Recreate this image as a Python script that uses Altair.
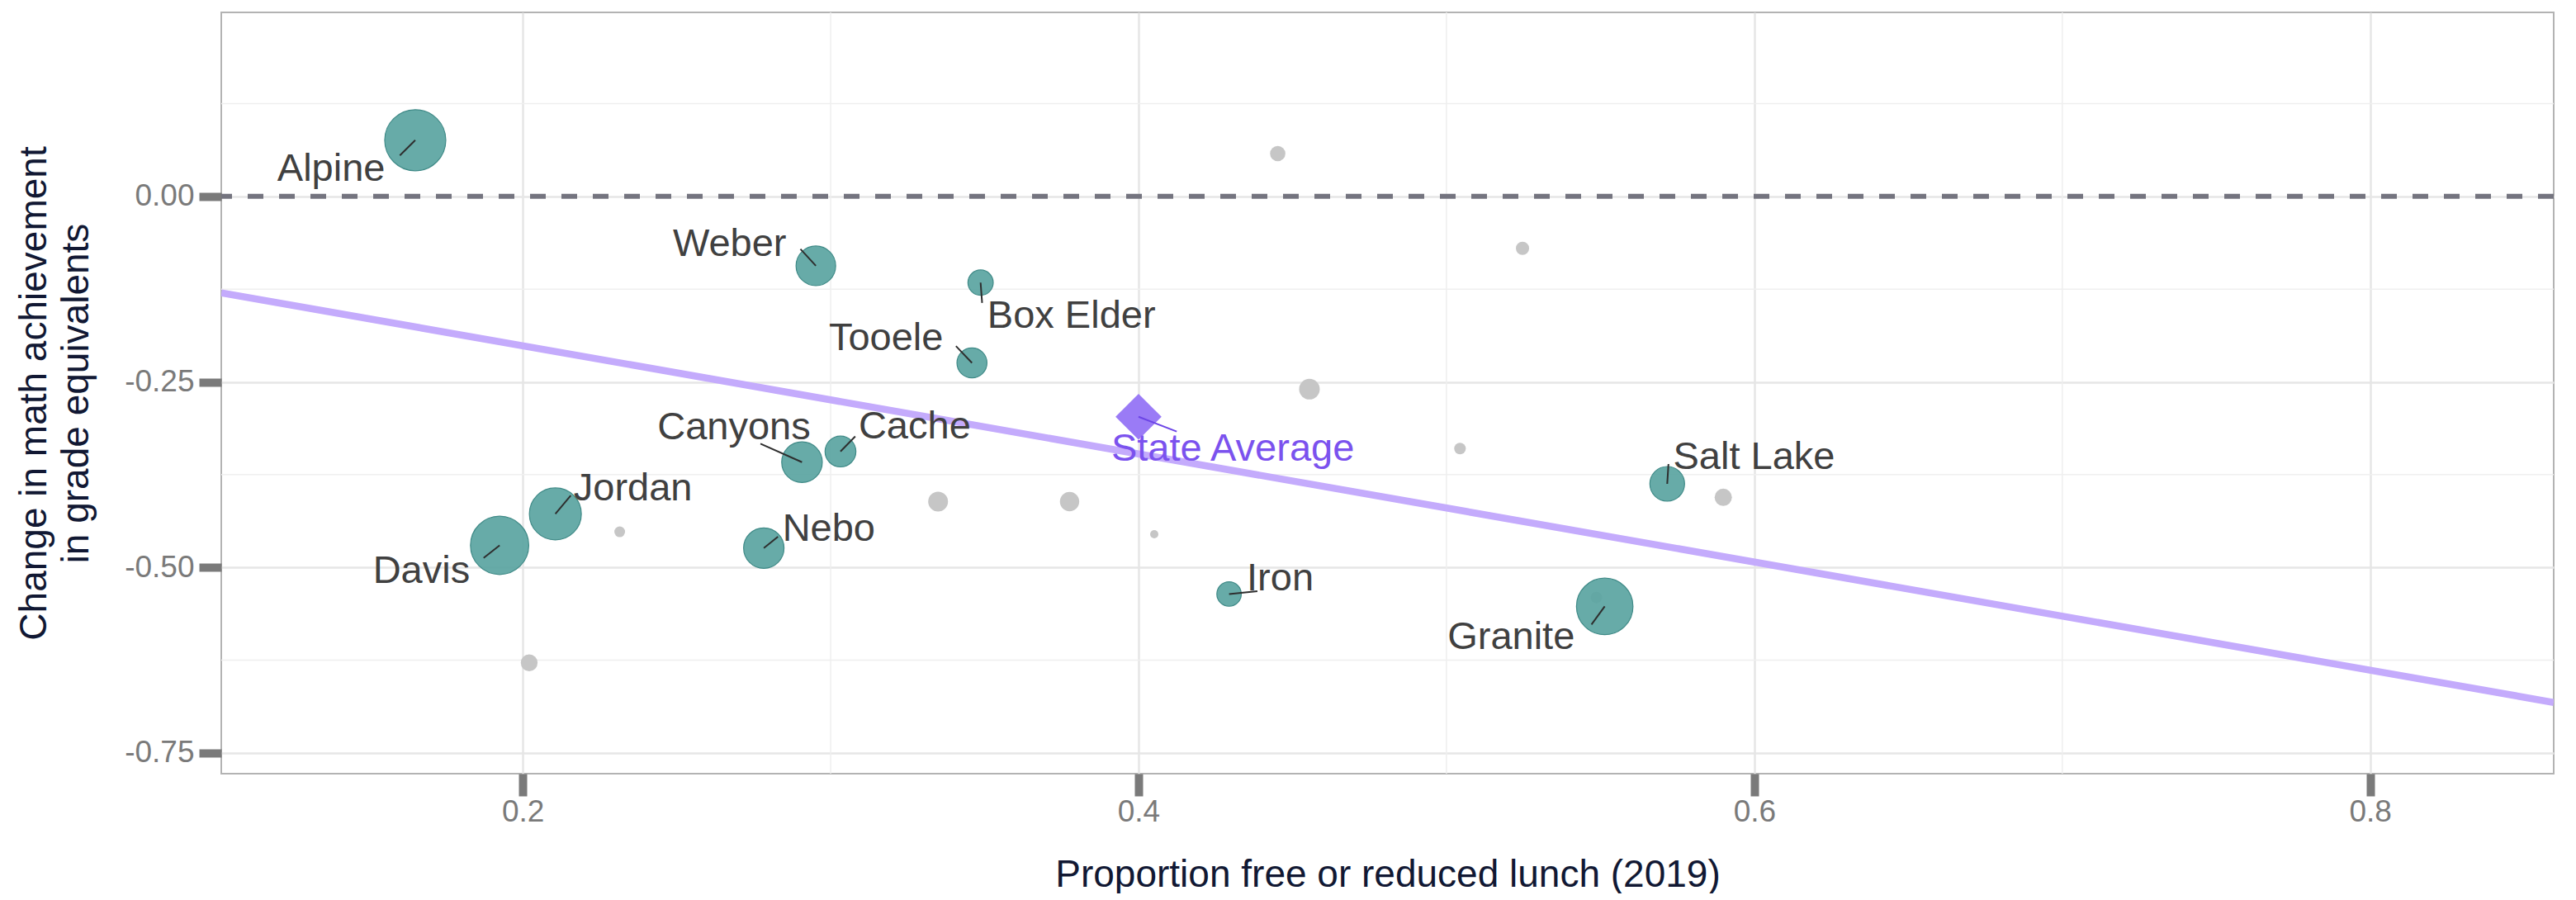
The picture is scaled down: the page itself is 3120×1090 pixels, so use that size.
import altair as alt
import pandas as pd

# ---- highlighted districts ----
districts = ["Alpine", "Davis", "Granite", "Jordan", "Canyons", "Nebo", "Weber",
             "Salt Lake", "Cache", "Tooele", "Box Elder", "Iron"]
frl = [0.1651, 0.1925, 0.5514, 0.2106, 0.2907, 0.2783, 0.2952,
       0.5717, 0.3032, 0.3459, 0.3487, 0.4294]
change = [0.0757, -0.4703, -0.5526, -0.4279, -0.3582, -0.4740, -0.0935,
          -0.3874, -0.3438, -0.2244, -0.1162, -0.5359]
students = [80000, 72800, 68500, 57900, 35300, 35000, 33600,
            25800, 20400, 19300, 13700, 12800]
# repelled label anchors (data units) and leader-segment ends
label_x = [0.1378, 0.1671, 0.5210, 0.2358, 0.2686, 0.2994, 0.2672,
           0.5999, 0.3273, 0.3180, 0.3782, 0.4460]
label_y = [0.0212, -0.5210, -0.6100, -0.4097, -0.3273, -0.4642, -0.0802,
           -0.3674, -0.3262, -0.2071, -0.1770, -0.5310]
seg_x = [0.1601, 0.1873, 0.5471, 0.2156, 0.2772, 0.2829, 0.2902,
         0.5721, 0.3080, 0.3407, 0.3492, 0.4386]
seg_y = [0.0553, -0.4873, -0.5770, -0.4032, -0.3333, -0.4586, -0.0709,
         -0.3607, -0.3235, -0.2017, -0.1436, -0.5321]

# ---- other districts ----
other_frl = [0.4452, 0.5247, 0.4555, 0.5044, 0.5899, 0.3349, 0.3776,
             0.4051, 0.2315, 0.2021, 0.5487]
other_change = [0.0577, -0.0700, -0.2598, -0.3399, -0.4056, -0.4114, -0.4114,
                -0.4552, -0.4520, -0.6286, -0.5406]
other_students = [5050, 3740, 9120, 2860, 6440, 8410, 7990,
                  1460, 2470, 6080, 2860]

# ---- state average ----
state_name = ["State Average"]
state_frl = [0.400]
state_change = [-0.297]
state_label_x = [0.4306]
state_label_y = [-0.3562]
state_seg_x = [0.4124]
state_seg_y = [-0.3169]

# ---- fitted line ends ----
fit_x = [0.1021, 0.8596]
fit_y = [-0.130, -0.682]

# ---- ticks / grid ----
x_ticks = [0.2, 0.4, 0.6, 0.8]
y_ticks = [0.0, -0.25, -0.50, -0.75]
x_minor = [0.3, 0.5, 0.7]
y_minor = [0.125, -0.125, -0.375, -0.625]
zero_line = [0.0]

teal = pd.DataFrame({"name": districts, "frl": frl, "change": change,
                     "students": students, "lx": label_x, "ly": label_y,
                     "sx": seg_x, "sy": seg_y})
others = pd.DataFrame({"frl": other_frl, "change": other_change,
                       "students": other_students})
state = pd.DataFrame({"name": state_name, "frl": state_frl, "change": state_change,
                      "lx": state_label_x, "ly": state_label_y,
                      "sx": state_seg_x, "sy": state_seg_y})
fit = pd.DataFrame({"frl": fit_x, "change": fit_y})

FONT = "Liberation Sans"
TICK_GRAY = "#7a7a7a"
TITLE_COLOR = "#111833"

xscale = alt.Scale(domain=[0.1021, 0.8596], nice=False, zero=False)
yscale = alt.Scale(domain=[-0.778, 0.248], nice=False, zero=False)
sscale = alt.Scale(domain=[0, 80000], range=[0, 5476])

xaxis = alt.Axis(values=x_ticks, format=".1f",
                 title="Proportion free or reduced lunch (2019)",
                 titleFont=FONT, titleFontSize=46, titleFontWeight="normal",
                 titleColor=TITLE_COLOR, titleBaseline="alphabetic",
                 titleY=136, titleAlign="center",
                 labelFont=FONT, labelFontSize=37, labelColor=TICK_GRAY,
                 labelPadding=1, tickSize=27, tickWidth=10, tickColor=TICK_GRAY,
                 domain=False, grid=True, gridColor="#e6e6e6", gridWidth=2.5)
yaxis = alt.Axis(values=y_ticks,
                 labelExpr="datum.value == 0 ? '0.00' : '-' + format(abs(datum.value), '.2f')",
                 title=["Change in math achievement", "in grade equivalents"],
                 titleFont=FONT, titleFontSize=46, titleFontWeight="normal",
                 titleColor=TITLE_COLOR, titleAngle=270, titleBaseline="alphabetic",
                 titleAlign="center", titleX=-213, titleY=461, titleLineHeight=51,
                 labelFont=FONT, labelFontSize=37, labelColor=TICK_GRAY,
                 labelPadding=6, tickSize=27, tickWidth=10, tickColor=TICK_GRAY,
                 domain=False, grid=True, gridColor="#e6e6e6", gridWidth=2.5)


def X(field):
    return alt.X(field, type="quantitative", scale=xscale, axis=xaxis)


def Y(field):
    return alt.Y(field, type="quantitative", scale=yscale, axis=yaxis)


minor_v = alt.Chart(pd.DataFrame({"frl": x_minor})).mark_rule(
    color="#efefef", strokeWidth=1.5).encode(x=X("frl"))
minor_h = alt.Chart(pd.DataFrame({"change": y_minor})).mark_rule(
    color="#efefef", strokeWidth=1.5).encode(y=Y("change"))

zero = alt.Chart(pd.DataFrame({"change": zero_line})).mark_rule(
    color="#74747f", strokeWidth=6, strokeDash=[19, 19]).encode(y=Y("change"))

fit_line = alt.Chart(fit).mark_line(
    color="#c4abfc", strokeWidth=8.5, clip=True).encode(x=X("frl"), y=Y("change"))

other_pts = alt.Chart(others).mark_circle(color="#c6c6c6", opacity=1).encode(
    x=X("frl"), y=Y("change"),
    size=alt.Size("students:Q", scale=sscale, legend=None))

teal_pts = alt.Chart(teal).mark_point(
    shape="circle", filled=True, fill="#5aa4a1", fillOpacity=0.92,
    stroke="#3f8a87", strokeWidth=1.2, strokeOpacity=1).encode(
    x=X("frl"), y=Y("change"),
    size=alt.Size("students:Q", scale=sscale, legend=None))

diamond = alt.Chart(state).mark_point(
    shape="diamond", filled=True, fill="#9a7bf6", size=3100, opacity=1).encode(
    x=X("frl"), y=Y("change"))

segs = alt.Chart(teal).mark_rule(color="#2e2e2e", strokeWidth=2).encode(
    x=X("frl"), y=Y("change"), x2="sx", y2="sy")

state_seg = alt.Chart(state).mark_rule(color="#6c45e6", strokeWidth=2).encode(
    x=X("frl"), y=Y("change"), x2="sx", y2="sy")

labels = alt.Chart(teal).mark_text(
    align="center", baseline="alphabetic", font=FONT, fontSize=47,
    color="#404040").encode(x=X("lx"), y=Y("ly"), text="name:N")

state_label = alt.Chart(state).mark_text(
    align="center", baseline="alphabetic", font=FONT, fontSize=47,
    color="#7b52ee").encode(x=X("lx"), y=Y("ly"), text="name:N")

chart = alt.layer(
    minor_v, minor_h, zero, fit_line, other_pts, teal_pts, diamond,
    segs, state_seg, labels, state_label
).properties(
    width=2825, height=922,
    autosize=alt.AutoSizeParams(type="none"),
    padding={"left": 260, "top": 7, "right": 10, "bottom": 145},
    background="white",
).configure_view(
    stroke="#b3b3b3", strokeWidth=2
)

chart.save("out.html", embed_options={"renderer": "svg", "actions": False})
